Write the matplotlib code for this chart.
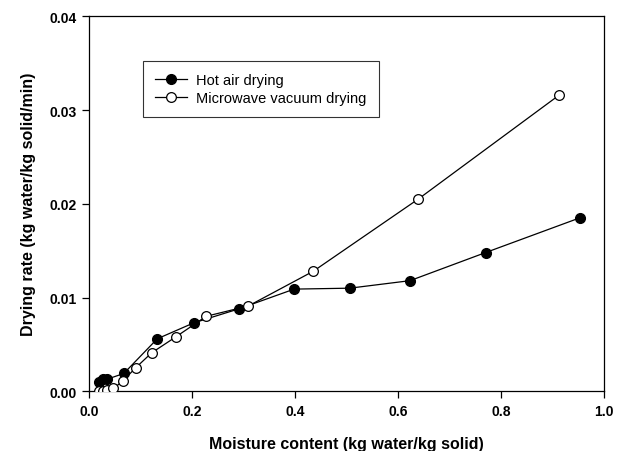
import matplotlib
matplotlib.use("Agg")
import matplotlib.pyplot as plt

hot_x = [0.018, 0.027, 0.035, 0.067, 0.132, 0.203, 0.291, 0.398, 0.506, 0.623, 0.770, 0.953]
hot_y = [0.0010, 0.0013, 0.0013, 0.0019, 0.0056, 0.0073, 0.0088, 0.0109, 0.0110, 0.0118, 0.0148, 0.0185]

mw_x = [0.018, 0.027, 0.035, 0.047, 0.065, 0.090, 0.121, 0.168, 0.227, 0.309, 0.435, 0.639, 0.913]
mw_y = [0.0000, 0.0000, 0.0001, 0.0003, 0.0011, 0.0025, 0.0041, 0.0058, 0.0080, 0.0091, 0.0128, 0.0205, 0.0316]

xticks = [0.0, 0.2, 0.4, 0.6, 0.8, 1.0]
yticks = [0.00, 0.01, 0.02, 0.03, 0.04]

plt.rcParams['font.family'] = ['Liberation Sans', 'DejaVu Sans']

fig = plt.figure(figsize=(6.22, 4.52), dpi=100)
ax = fig.add_axes([89.3/622, 1 - 392.3/452, (604 - 89.3)/622, (392.3 - 17.3)/452])

ax.plot(hot_x, hot_y, '-o', color='black', lw=0.9, ms=7, mfc='black', mec='black',
        label='Hot air drying', zorder=3)
ax.plot(mw_x, mw_y, '-o', color='black', lw=0.9, ms=7, mfc='white', mec='black', mew=0.9,
        label='Microwave vacuum drying', zorder=3)

ax.set_xlim(0, 1.0)
ax.set_ylim(0, 0.04)
ax.set_xticks(xticks)
ax.set_xticklabels([f"{v:.1f}" for v in xticks], fontweight='bold', fontsize=10)
ax.set_yticks(yticks)
ax.set_yticklabels([f"{v:.2f}" for v in yticks], fontweight='bold', fontsize=10)
ax.tick_params(direction='out', length=5, width=0.9, pad=4)
for s in ax.spines.values():
    s.set_linewidth(0.9)

ax.set_xlabel('Moisture content (kg water/kg solid)', fontweight='bold', fontsize=11.5, labelpad=13)
ax.set_ylabel('Drying rate (kg water/kg solid/min)', fontweight='bold', fontsize=11.5, labelpad=10)

leg = ax.legend(loc='upper left', bbox_to_anchor=((143 - 89.3)/514.7, (392.3 - 62)/375),
                frameon=True, fancybox=False, edgecolor='black', fontsize=10.5,
                handlelength=2.2, borderpad=0.85, labelspacing=0.25, handletextpad=0.6,
                borderaxespad=0)
leg.get_frame().set_linewidth(0.8)

fig.savefig('out.png', dpi=100)
